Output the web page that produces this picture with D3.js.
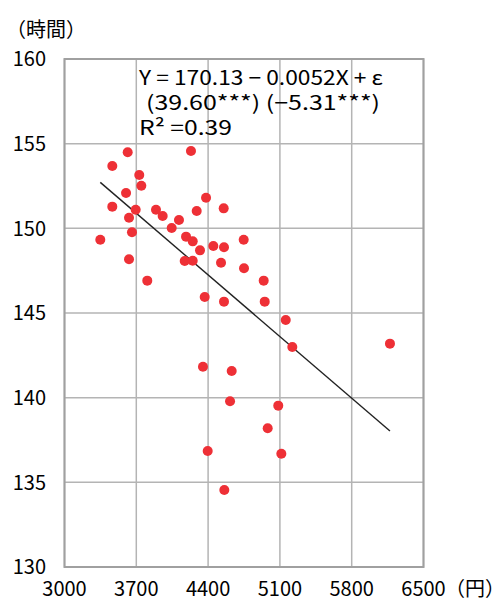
<html>
<script src="https://d3js.org/d3.v7.min.js"></script>
<style>
body {margin: 0; background: #fff;}
text {font-family: "Noto Sans CJK JP", sans-serif; fill: #000;}
</style>
<body>
<svg width="500" height="600"></svg>
<script>
// price (円) and time (時間)
var priceX = [3349, 3466, 3466, 3616, 3600, 3729, 3749, 3694, 3629, 3658,
              3629, 3807, 3892, 3957, 4045, 4116, 4233, 4185, 4250, 4172,
              4250, 4289, 4380, 4321, 4451, 4367, 4552, 4555, 4526, 4555,
              4747, 4750, 4942, 4952, 5157, 5221, 4350, 4630, 4614, 5084,
              4981, 4396, 5114, 4558, 6173];
var hoursY = [149.33, 153.68, 151.28, 154.49, 152.09, 153.15, 152.52, 151.10, 150.63, 149.77,
              148.17, 146.91, 151.10, 150.73, 150.02, 150.49, 154.57, 149.51, 149.23, 148.07,
              148.09, 151.02, 151.81, 148.70, 148.96, 145.95, 151.18, 148.88, 147.97, 145.67,
              149.33, 147.64, 146.91, 145.67, 144.59, 142.99, 141.83, 141.58, 139.79, 139.53,
              138.19, 136.85, 136.69, 134.55, 143.19];
var xTicks = [3000, 3700, 4400, 5100, 5800, 6500];
var yTicks = [130, 135, 140, 145, 150, 155, 160];
var trendIntercept = 170.13, trendSlope = -0.0052;
var eqLines = ["Y = 170.13 − 0.0052X + ε", "(39.60***) (−5.31***)", "R² =0.39"];

var mLeft = 64.5, mTop = 59, width = 359, height = 508;
var svg = d3.select("svg");

var x = d3.scaleLinear().domain([3000, 6500]).range([mLeft, mLeft + width]);
var y = d3.scaleLinear().domain([130, 160]).range([mTop + height, mTop]);

//grid
svg.append("g").selectAll("line").data(xTicks).enter().append("line")
    .attr("x1", d => x(d)).attr("x2", d => x(d))
    .attr("y1", mTop).attr("y2", mTop + height)
    .attr("stroke", "#b4b4b4").attr("stroke-width", 1.5);
svg.append("g").selectAll("line").data(yTicks).enter().append("line")
    .attr("x1", mLeft).attr("x2", mLeft + width)
    .attr("y1", d => y(d)).attr("y2", d => y(d))
    .attr("stroke", "#b4b4b4").attr("stroke-width", 1.5);
svg.append("rect").attr("x", mLeft).attr("y", mTop).attr("width", width).attr("height", height)
    .attr("fill", "none").attr("stroke", "#a0a0a0").attr("stroke-width", 2);

//tick labels
svg.append("g").selectAll("text").data(yTicks).enter().append("text")
    .attr("x", 46).attr("y", d => y(d)).attr("dy", "0.36em")
    .attr("text-anchor", "end").style("font-size", "20px").text(d => d);
svg.append("g").selectAll("text").data(xTicks).enter().append("text")
    .attr("x", d => x(d)).attr("y", 589).attr("dy", "0.36em")
    .attr("text-anchor", "middle").style("font-size", "20px").text(d => d);
svg.append("text").attr("x", 445).attr("y", 589).attr("dy", "0.36em")
    .style("font-size", "20px").text("（円）");
svg.append("text").attr("x", 6).attr("y", 30).attr("dy", "0.36em")
    .style("font-size", "20px").text("（時間）");

//trend line
var xr = d3.extent(priceX);
svg.append("line")
    .attr("x1", x(xr[0])).attr("y1", y(trendIntercept + trendSlope * xr[0]))
    .attr("x2", x(xr[1])).attr("y2", y(trendIntercept + trendSlope * xr[1]))
    .attr("stroke", "#222").attr("stroke-width", 1.4);

//points
svg.append("g").selectAll("circle").data(priceX).enter().append("circle")
    .attr("cx", d => x(d)).attr("cy", (d, i) => y(hoursY[i]))
    .attr("r", 5).attr("fill", "#ee3036");

//equation
var eqX = [139, 146, 139], eqLen = [244, 234, 93];
svg.append("g").selectAll("text").data(eqLines).enter().append("text")
    .attr("x", (d, i) => eqX[i]).attr("y", (d, i) => 85 + i * 25)
    .attr("textLength", (d, i) => eqLen[i]).attr("lengthAdjust", "spacingAndGlyphs")
    .style("font-size", "20px").text(d => d);
</script>
</body>
</html>
